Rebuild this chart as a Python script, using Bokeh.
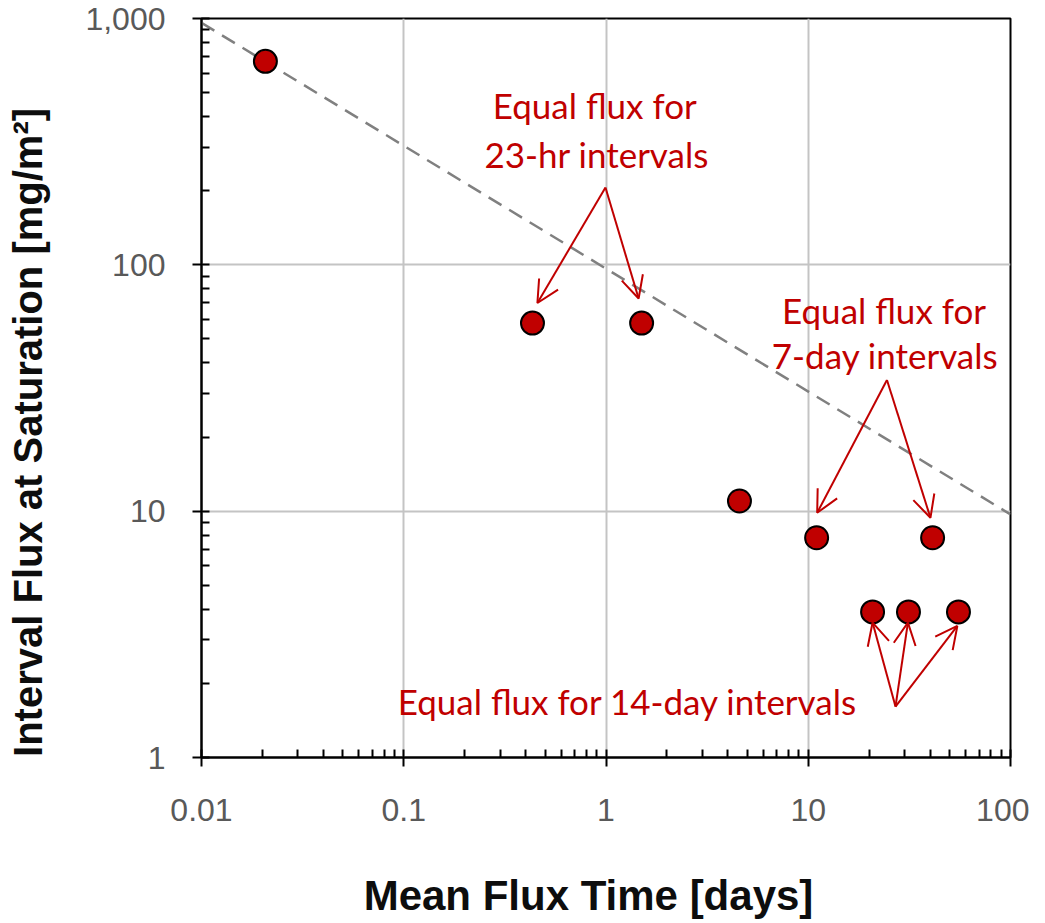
from bokeh.plotting import figure
from bokeh.models import (FixedTicker, CustomJSTickFormatter, Arrow, OpenHead, Label, Range1d)
from bokeh.embed import file_html
from bokeh.resources import INLINE

# ---- data ----
mean_flux_time_days = [0.0207, 0.433, 1.50, 4.57, 11.0, 41.2, 20.8, 31.3, 55.3]
interval_flux = [670, 58, 58, 11.0, 7.8, 7.8, 3.9, 3.9, 3.9]

trend_x = [0.01, 100]
trend_y = [960, 9.7]

x_major = [0.01, 0.1, 1, 10, 100]
y_major = [1, 10, 100, 1000]

ann_23hr = ["Equal flux for", "23-hr intervals"]
ann_7day = ["Equal flux for", "7-day intervals"]
ann_14day = ["Equal flux for 14-day intervals"]

RED = "#C00000"
NBSP = "\u00a0"

def minors(majors):
    out = []
    for m in majors[:-1]:
        out += [m * k for k in range(2, 10)]
    return out

p = figure(width=1029, height=921, x_axis_type="log", y_axis_type="log",
           x_range=Range1d(0.01, 100), y_range=Range1d(1, 1000),
           output_backend="svg", toolbar_location=None,
           min_border_left=201, min_border_top=18, min_border_right=19,
           min_border_bottom=163)

p.outline_line_color = "black"
p.outline_line_width = 2
p.background_fill_color = "white"
p.border_fill_color = "white"

p.xaxis.ticker = FixedTicker(ticks=x_major, minor_ticks=minors(x_major))
p.yaxis.ticker = FixedTicker(ticks=y_major, minor_ticks=minors(y_major))
fmt = CustomJSTickFormatter(code="return tick >= 1000 ? tick.toLocaleString('en-US') : tick.toString();")
p.xaxis.formatter = fmt
p.yaxis.formatter = fmt

for ax in (p.xaxis, p.yaxis):
    ax.axis_line_color = "black"
    ax.axis_line_width = 2
    ax.major_tick_line_color = "black"
    ax.major_tick_line_width = 2
    ax.minor_tick_line_color = "black"
    ax.minor_tick_line_width = 2
    ax.major_tick_out = 9
    ax.major_tick_in = 8
    ax.minor_tick_out = 0
    ax.minor_tick_in = 8
    ax.major_label_text_font = "Liberation Sans"
    ax.major_label_text_font_size = "32px"
    ax.major_label_text_color = "#595959"
    ax.axis_label_text_font = "Liberation Sans"
    ax.axis_label_text_font_style = "bold"
    ax.axis_label_text_color = "#0d0d0d"

p.xaxis.axis_label = "Mean Flux Time [days]" + NBSP * 3
p.xaxis.axis_label_text_font_size = "42px"
p.yaxis.axis_label = "Interval Flux at Saturation [mg/m\u00b2]" + NBSP * 8
p.yaxis.axis_label_text_font_size = "40px"
p.xaxis.major_label_standoff = 32
p.xaxis.axis_label_standoff = 48
p.yaxis.major_label_standoff = 27
p.yaxis.axis_label_standoff = 32

p.grid.grid_line_color = "#c4c4c4"
p.grid.grid_line_width = 2
p.grid.minor_grid_line_color = None

p.line(trend_x, trend_y, line_color="#808080", line_width=2.5, line_dash="15 9")

p.scatter(mean_flux_time_days, interval_flux, size=23, fill_color=RED,
          line_color="black", line_width=2)

# annotations
def label(x, y, t):
    p.add_layout(Label(x=x, y=y, text=t, text_font="Lato", text_font_size="35px",
                       text_color=RED, text_align="center", text_baseline="alphabetic"))

label(0.88, 444, ann_23hr[0])
label(0.90, 281, ann_23hr[1])
label(23.7, 65.5, ann_7day[0])
label(24, 43, ann_7day[1])
label(1.28, 1.70, ann_14day[0])

def arrow(xs, ys, xe, ye):
    p.add_layout(Arrow(end=OpenHead(size=22, line_color=RED, line_width=2),
                       x_start=xs, y_start=ys, x_end=xe, y_end=ye,
                       line_color=RED, line_width=2))

arrow(0.994, 206, 0.458, 70)
arrow(0.994, 206, 1.45, 73)
arrow(24.5, 34.1, 11.07, 9.85)
arrow(24.5, 34.1, 40.2, 9.40)
arrow(27.0, 1.61, 20.8, 3.53)
arrow(27.0, 1.61, 31.1, 3.53)
arrow(27.0, 1.61, 54.6, 3.42)

open("out.html", "w").write(file_html(p, INLINE))
